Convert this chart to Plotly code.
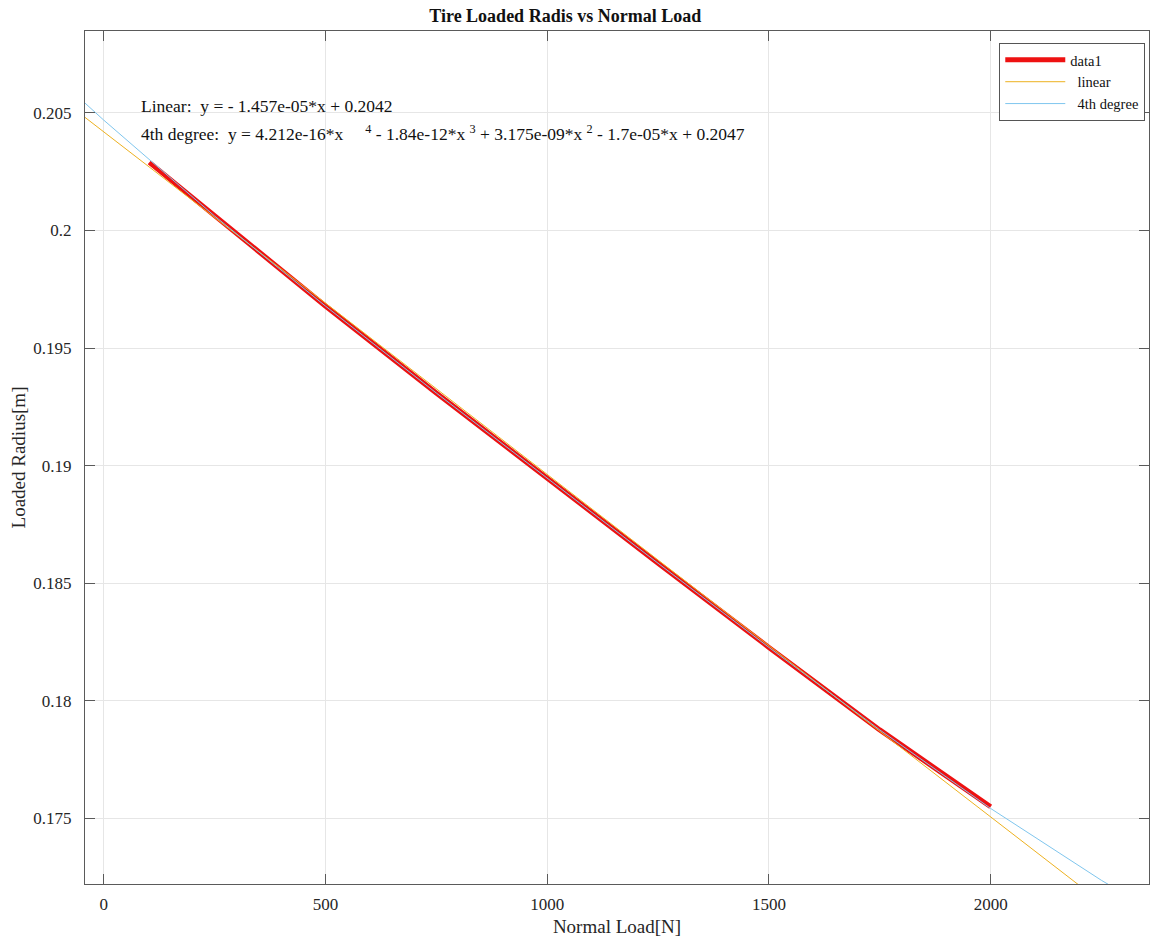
import plotly.graph_objects as go

# Measured data (Normal load [N] vs loaded radius [m])
load_n = [103, 250, 500, 750, 1000, 1250, 1500, 1750, 2000]
radius_m = [0.2029, 0.20062, 0.19679, 0.19309, 0.18946, 0.18585, 0.18227, 0.17876, 0.17549]

# Linear fit line, as drawn across the axis
lin_x = [-42, 2357]
lin_y = [0.204812, 0.169859]

# 4th degree fit curve, as drawn across the axis
deg4_x = [-42, 0, 250, 500, 750, 1000, 1250, 1500, 1750, 2000, 2250, 2357]
deg4_y = [0.20542, 0.2047, 0.20062, 0.19679, 0.19309, 0.18946, 0.18585, 0.18227,
          0.17876, 0.17542, 0.17236, 0.171176]

x_ticks = [0, 500, 1000, 1500, 2000]
y_ticks = [0.175, 0.18, 0.185, 0.19, 0.195, 0.2, 0.205]
y_tick_text = ["0.175", "0.18", "0.185", "0.19", "0.195", "0.2", "0.205"]

FONT = "Liberation Serif"
AXC = "#5a5a5a"
GRID = "#e6e6e6"

fig = go.Figure()
fig.add_trace(go.Scatter(x=load_n, y=radius_m, mode="lines", name="data1",
                         line=dict(color="#ee1111", width=5)))
fig.add_trace(go.Scatter(x=lin_x, y=lin_y, mode="lines", name="  linear",
                         line=dict(color="#EDB120", width=1)))
fig.add_trace(go.Scatter(x=deg4_x, y=deg4_y, mode="lines", name="  4th degree",
                         line=dict(color="#7fc6ee", width=1)))

nb = "\u00a0"
fig.add_annotation(xref="paper", yref="y", x=0.0503, y=0.20528, xanchor="left", yanchor="middle",
                   showarrow=False, text="Linear:" + nb * 2 + "y = - 1.457e-05*x + 0.2042",
                   font=dict(family=FONT, size=17.5, color="#111"))
fig.add_annotation(xref="paper", yref="y", x=0.0503, y=0.20414, xanchor="left", yanchor="middle",
                   showarrow=False,
                   text="4th degree:" + nb * 2 + "y = 4.212e-16*x" + nb * 5 + "<sup>4</sup>" + nb
                        + "- 1.84e-12*x" + nb + "<sup>3</sup>" + nb + "+ 3.175e-09*x" + nb
                        + "<sup>2</sup>" + nb + "- 1.7e-05*x + 0.2047",
                   font=dict(family=FONT, size=17.5, color="#111"))

fig.update_layout(
    width=1150, height=939,
    margin=dict(l=85, r=1, t=31, b=55),
    paper_bgcolor="white", plot_bgcolor="white",
    font=dict(family=FONT, size=17, color="#262626"),
    title=dict(text="<b>Tire Loaded Radis vs Normal Load</b>", x=0.4915, xanchor="center",
               y=0.983, yanchor="middle", font=dict(family=FONT, size=18, color="#111")),
    showlegend=True,
    legend=dict(x=0.9965, y=0.986, xanchor="right", yanchor="top",
                bgcolor="white", bordercolor="#555", borderwidth=1,
                font=dict(family=FONT, size=14.5, color="#111"),
                itemwidth=60, tracegroupgap=0),
    xaxis=dict(range=[-42, 2357], tickvals=x_ticks, ticktext=[str(v) for v in x_ticks],
               showgrid=True, gridcolor=GRID, zeroline=False,
               showline=True, linecolor=AXC, linewidth=1, mirror="ticks",
               ticks="inside", ticklen=10, tickcolor=AXC, ticklabelstandoff=5,
               title=dict(text="Normal Load[N]", font=dict(family=FONT, size=19, color="#262626"),
                          standoff=6),
               tickfont=dict(family=FONT, size=17, color="#262626")),
    yaxis=dict(range=[0.172207, 0.208486], tickvals=y_ticks, ticktext=y_tick_text,
               showgrid=True, gridcolor=GRID, zeroline=False,
               showline=True, linecolor=AXC, linewidth=1, mirror="ticks",
               ticks="inside", ticklen=10, tickcolor=AXC, ticklabelstandoff=9,
               title=dict(text="Loaded Radius[m]", font=dict(family=FONT, size=19, color="#262626"),
                          standoff=2),
               tickfont=dict(family=FONT, size=17, color="#262626")),
)

fig.write_html("out.html")
